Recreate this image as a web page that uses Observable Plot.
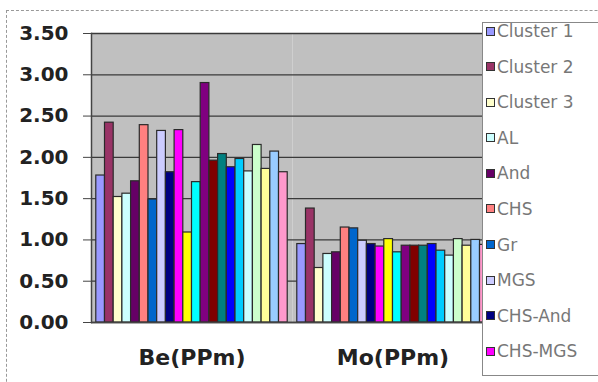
<!DOCTYPE html>
<html>
<head>
<meta charset="utf-8">
<script src="https://cdn.jsdelivr.net/npm/d3@7"></script>
<script src="https://cdn.jsdelivr.net/npm/@observablehq/plot@0.6"></script>
<style>
  html, body { margin: 0; padding: 0; background: #fff; }
  #wrap { position: relative; width: 598px; height: 382px; overflow: hidden; background: #fff; }
  #outer { position: absolute; left: 6px; top: 10px; width: 800px; height: 600px; border-left: 1px dashed #999; border-top: 1px dashed #999; }
  #chart { position: absolute; left: 0; top: 0; }
  #legend { position: absolute; left: 482px; top: 22px; width: 160px; height: 352px; border: 1px solid #888; background: #fff;
            font-family: "DejaVu Sans", sans-serif; font-size: 17px; color: #777; }
  #legend .item { display: flex; align-items: center; height: 16px; margin-bottom: 19.6px; white-space: nowrap; }
  #legend .sw { width: 7px; height: 7px; border: 1px solid #333; margin-left: 3px; margin-right: 2px; flex: none; }
</style>
</head>
<body>
<div id="wrap">
  <div id="outer"></div>
  <div id="chart"></div>
  <div id="legend"></div>
</div>
<script>
const categories = ["Be(PPm)", "Mo(PPm)"];
const seriesNames = ["Cluster 1", "Cluster 2", "Cluster 3", "AL", "And", "CHS", "Gr", "MGS", "CHS-And", "CHS-MGS",
  "Series 11", "Series 12", "Series 13", "Series 14", "Series 15", "Series 16", "Series 17", "Series 18",
  "Series 19", "Series 20", "Series 21", "Series 22"];
const legendShown = 10;
const beValues = [1.78, 2.42, 1.52, 1.56, 1.71, 2.39, 1.49, 2.32, 1.82, 2.33, 1.09, 1.70, 2.90, 1.96, 2.04, 1.88, 1.98, 1.83, 2.15, 1.86, 2.07, 1.82];
const moValues = [0.95, 1.38, 0.66, 0.83, 0.85, 1.15, 1.14, 0.99, 0.95, 0.92, 1.01, 0.85, 0.93, 0.93, 0.93, 0.95, 0.87, 0.81, 1.01, 0.93, 1.00, 0.94];
const seriesColors = ["#9999FF", "#993366", "#FFFFCC", "#CCFFFF", "#660066", "#FF8080", "#0066CC", "#CCCCFF", "#000080", "#FF00FF",
  "#FFFF00", "#00FFFF", "#800080", "#800000", "#008080", "#0000FF", "#00CCFF", "#CCFFFF", "#CCFFCC", "#FFFF99", "#99CCFF", "#FF99CC"];
const yTicks = [0, 0.5, 1, 1.5, 2, 2.5, 3, 3.5];

const data = [];
seriesNames.forEach((s, i) => {
  data.push({category: categories[0], series: s, value: beValues[i]});
  data.push({category: categories[1], series: s, value: moValues[i]});
});

const chart = Plot.plot({
  width: 598,
  height: 382,
  marginLeft: 91,
  marginRight: 105,
  marginTop: 33,
  marginBottom: 60,
  style: {background: "transparent", fontFamily: "DejaVu Sans, sans-serif", color: "#222"},
  fx: {domain: categories, padding: 0, label: null, round: false},
  x: {domain: seriesNames, paddingInner: 0, paddingOuter: 0.55, round: false, axis: null},
  y: {domain: [0, 3.5], label: null},
  color: {domain: seriesNames, range: seriesColors},
  marks: [
    Plot.frame({fill: "#c0c0c0", stroke: null}),
    Plot.ruleY(yTicks, {stroke: "#3a3a3a", strokeWidth: 1.3}),
    Plot.barY(data, {fx: "category", x: "series", y: "value", fill: "series", stroke: "#2a2a2a", strokeWidth: 1.2, inset: 0}),
    Plot.ruleY([0], {stroke: "#444", strokeWidth: 1.5}),
    Plot.frame({anchor: "left", stroke: "#444", strokeWidth: 1.5, fx: () => categories[0]}),
    Plot.axisY(yTicks, {tickSize: 8, tickPadding: 15, tickFormat: d => d.toFixed(2), fontSize: 20, fontWeight: "bold", stroke: "#444", fill: "#222", label: null}),
    Plot.axisFx({anchor: "bottom", tickSize: 0, tickPadding: 27, fontSize: 22, fontWeight: "bold", fill: "#222", label: null})
  ]
});
document.getElementById("chart").appendChild(chart);

const legend = d3.select("#legend");
seriesNames.slice(0, legendShown).forEach((s, i) => {
  const item = legend.append("div").attr("class", "item");
  item.append("div").attr("class", "sw").style("background", seriesColors[i]);
  item.append("span").text(s);
});
</script>
</body>
</html>
